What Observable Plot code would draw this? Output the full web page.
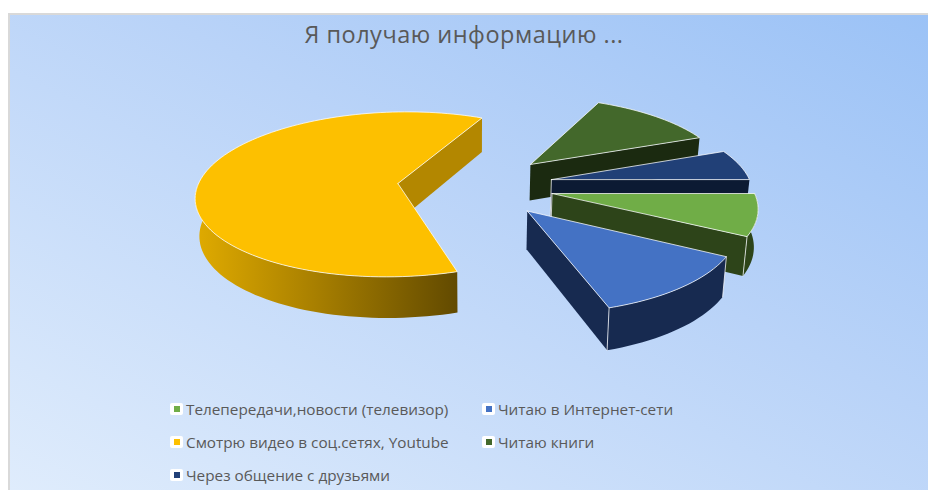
<!DOCTYPE html>
<html lang="ru">
<head>
<meta charset="utf-8">
<script src="https://cdn.jsdelivr.net/npm/d3@7"></script>
<script src="https://cdn.jsdelivr.net/npm/@observablehq/plot@0.6"></script>
<style>
  html, body { margin: 0; padding: 0; background: #fff; }
  #page { position: relative; width: 928px; height: 490px; overflow: hidden; }
  #panel { position: absolute; left: 8px; top: 13px; width: 920px; height: 477px; box-sizing: border-box;
    border-top: 2px solid #d9d9d9; border-left: 2px solid #d9d9d9;
    background: linear-gradient(to top right, #dfecfc 0%, #b9d3f8 58%, #9bc2f6 100%); }
  #title { position: absolute; left: 0; top: 19px; width: 928px; text-align: center; transform: translateX(0);
    font: 23.5px "Open Sans", sans-serif; color: #595959; letter-spacing: .5px; line-height: 30px; white-space: nowrap; }
  #chart { position: absolute; left: 8px; top: 80px; }
  #chart svg { display: block; background: transparent; }
  .item { position: absolute; font: 15.3px "Open Sans", sans-serif; color: #595959; white-space: nowrap; line-height: 20px; }
  .sw { position: absolute; width: 13px; height: 12px; background: #fff; border-radius: 2px; }
  .sw i { position: absolute; left: 3.5px; top: 3px; width: 6px; height: 6px; display: block; }
</style>
</head>
<body>
<div id="page">
  <div id="panel"></div>
  <div id="title"></div>
  <div id="chart"></div>
  <div id="legend"></div>
</div>
<script>
const titleText = "Я получаю информацию ...";
const categories = ["Телепередачи,новости (телевизор)", "Читаю в Интернет-сети", "Смотрю видео в соц.сетях, Youtube", "Читаю книги", "Через общение с друзьями"];
const values = [8, 12, 62, 12, 6];
const topColors = ["#70ad47", "#4472c4", "#fdc000", "#43682b", "#214077"];
const sideColors = ["#2d4419", "#172a50", "#b38700", "#1b2a10", "#0c1a33"];
const drawOrder = [3, 4, 0, 1, 2];
const legendCols = [170, 482];
const legendRows = [409, 442, 475];

document.getElementById("title").textContent = titleText;

// Pie geometry (flat disc with a mild perspective)
const startAngle = 90, R = 200, explode = 78, cx = 475, cy = 185, k = 0.408, persp = 0.00066, depth = 37, shrink = 0.015;
const rad = d => d * Math.PI / 180;
function project(X, Y, low) {
  const s = 1 / (1 - persp * Y) * (low ? 1 - shrink : 1);
  return { x: cx + X * s, y: cy + k * Y * s + (low ? depth * s / (1 - shrink) : 0) };
}
const total = d3.sum(values);
let acc = startAngle;
const slices = values.map((v, i) => {
  const a0 = acc, a1 = acc + v / total * 360;
  acc = a1;
  const mid = rad((a0 + a1) / 2);
  return { i, a0, a1, ox: explode * Math.sin(mid), oy: -explode * Math.cos(mid) };
});
function arcPts(s, from, to, low) {
  const n = Math.max(2, Math.ceil((to - from) / 2));
  return d3.range(n + 1).map(j => {
    const a = rad(from + (to - from) * j / n);
    return project(s.ox + R * Math.sin(a), s.oy - R * Math.cos(a), low);
  });
}
const apex = (s, low) => project(s.ox, s.oy, low);
const marks = [];
const poly = (pts, o) => marks.push(Plot.line([...pts, pts[0]], { x: "x", y: "y", curve: "linear", ...o }));
const edge = { stroke: "#fff", strokeOpacity: 0.75, strokeWidth: 1 };

for (const idx of drawOrder) {
  const s = slices[idx], side = sideColors[idx], top = topColors[idx];
  // radial wall on the clockwise end of the slice
  const endPt = arcPts(s, s.a1, s.a1 + 1, false)[0], endLow = arcPts(s, s.a1, s.a1 + 1, true)[0];
  const wall = [apex(s, false), endPt, endLow, apex(s, true)];
  poly(wall, { fill: side, stroke: "none" });
  // outer rim facing the viewer
  const from = Math.max(s.a0, 90), to = Math.min(s.a1, 270);
  if (to > from) {
    const upper = arcPts(s, from, to, false), lower = arcPts(s, from, to, true).reverse();
    poly([...upper, ...lower], { fill: idx === 2 ? "url(#rimGold)" : side, stroke: "none" });
    if (idx !== 2) {
      marks.push(Plot.line([upper[0], lower[lower.length - 1]], { x: "x", y: "y", ...edge }));
      marks.push(Plot.line([upper[upper.length - 1], lower[0]], { x: "x", y: "y", ...edge }));
    }
  }
  if (idx === 0 || idx === 4) marks.push(Plot.line([apex(s, false), apex(s, true)], { x: "x", y: "y", ...edge }));
  // top surface
  poly([apex(s, false), ...arcPts(s, s.a0, s.a1, false)], { fill: top, ...edge });
}

const svg = Plot.plot({
  width: 920, height: 310,
  margin: 0,
  x: { axis: null, domain: [8, 928], range: [0, 920] },
  y: { axis: null, domain: [80, 390], range: [0, 310] },
  style: { background: "transparent" },
  marks
});
const grad = d3.select(svg).insert("defs", ":first-child").append("linearGradient").attr("id", "rimGold");
[[0, "#e0ab00"], [0.45, "#a98000"], [1, "#624a00"]].forEach(([o, c]) =>
  grad.append("stop").attr("offset", o).attr("stop-color", c));
document.getElementById("chart").append(svg);

// Legend
const legend = document.getElementById("legend");
const slots = [[0, 0], [1, 0], [0, 1], [1, 1], [0, 2]];
categories.forEach((c, i) => {
  const [col, row] = slots[i];
  const sw = document.createElement("div");
  sw.className = "sw";
  sw.style.left = legendCols[col] + "px";
  sw.style.top = (legendRows[row] - 6) + "px";
  const dot = document.createElement("i");
  dot.style.background = topColors[i];
  sw.append(dot);
  const t = document.createElement("div");
  t.className = "item";
  t.textContent = c;
  t.style.left = (legendCols[col] + 16) + "px";
  t.style.top = (legendRows[row] - 10) + "px";
  legend.append(sw, t);
});
</script>
</body>
</html>
